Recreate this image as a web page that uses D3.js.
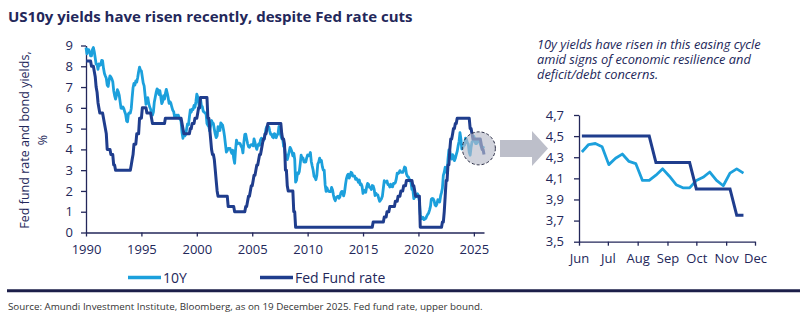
<!DOCTYPE html>
<html>
<head>
<meta charset="utf-8">
<script src="https://cdn.jsdelivr.net/npm/d3@7"></script>
<style>
  body { margin: 0; background: #fff; }
  text { font-family: "Open Sans", sans-serif; }
</style>
</head>
<body>
<div id="chart"></div>
<script>
// monthly values, Jan 1990 .. Dec 2025
const startYear = 1990;
const tenY = [
  8.9, 8.6, 8.8, 8.8, 8.7, 8.5, 8.5, 8.8, 8.9, 8.7, 8.4, 8.1,       // 1990
  8.09, 7.85, 8.11, 8.04, 8.07, 8.28, 8.27, 7.90, 7.65, 7.53, 7.42, 7.09,
  7.03, 7.34, 7.54, 7.48, 7.39, 7.26, 6.84, 6.59, 6.42, 6.59, 6.87, 6.77,
  6.60, 6.26, 5.98, 5.97, 6.04, 5.96, 5.81, 5.68, 5.36, 5.33, 5.72, 5.77,
  5.75, 5.97, 6.48, 6.97, 7.18, 7.10, 7.30, 7.24, 7.46, 7.74, 7.96, 7.81,
  7.78, 7.47, 7.20, 7.06, 6.63, 6.17, 6.28, 6.49, 6.20, 6.04, 5.93, 5.71, // 1995
  5.65, 5.81, 6.27, 6.51, 6.74, 6.91, 6.87, 6.64, 6.83, 6.53, 6.20, 6.30,
  6.58, 6.42, 6.69, 6.89, 6.71, 6.49, 6.22, 6.30, 6.21, 6.03, 5.88, 5.81,
  5.54, 5.57, 5.65, 5.64, 5.65, 5.50, 5.46, 5.34, 4.81, 4.53, 4.83, 4.65,
  4.72, 5.00, 5.23, 5.18, 5.54, 5.90, 5.79, 5.94, 5.92, 6.11, 6.03, 6.28,
  6.66, 6.52, 6.26, 5.99, 6.44, 6.10, 6.05, 5.83, 5.80, 5.74, 5.72, 5.24, // 2000
  5.16, 5.10, 4.89, 5.14, 5.39, 5.28, 5.24, 4.97, 4.73, 4.57, 4.65, 5.09,
  5.04, 4.91, 5.28, 5.21, 5.16, 4.93, 4.65, 4.26, 3.87, 3.94, 4.05, 4.03,
  4.05, 3.90, 3.81, 3.96, 3.57, 3.33, 3.98, 4.45, 4.27, 4.29, 4.30, 4.27,
  4.15, 4.08, 3.83, 4.35, 4.72, 4.73, 4.50, 4.28, 4.13, 4.10, 4.19, 4.23,
  4.22, 4.17, 4.50, 4.34, 4.14, 4.00, 4.18, 4.26, 4.20, 4.46, 4.54, 4.47, // 2005
  4.42, 4.57, 4.72, 4.99, 5.11, 5.11, 5.09, 4.88, 4.72, 4.73, 4.60, 4.56,
  4.76, 4.72, 4.56, 4.69, 4.75, 5.10, 5.00, 4.67, 4.52, 4.53, 4.15, 4.10,
  3.74, 3.74, 3.51, 3.68, 3.88, 4.10, 4.01, 3.89, 3.69, 3.81, 3.53, 2.42,
  2.52, 2.87, 2.82, 2.93, 3.29, 3.72, 3.56, 3.59, 3.40, 3.39, 3.40, 3.59,
  3.73, 3.69, 3.73, 3.85, 3.42, 3.20, 3.01, 2.70, 2.65, 2.54, 2.76, 3.29, // 2010
  3.39, 3.58, 3.41, 3.46, 3.17, 3.00, 3.00, 2.30, 1.98, 2.15, 2.01, 1.98,
  1.97, 1.97, 2.17, 2.05, 1.80, 1.62, 1.53, 1.68, 1.72, 1.75, 1.65, 1.72,
  1.91, 1.98, 1.96, 1.76, 1.93, 2.30, 2.58, 2.74, 2.81, 2.62, 2.72, 2.90,
  2.86, 2.71, 2.72, 2.71, 2.56, 2.60, 2.54, 2.42, 2.53, 2.30, 2.33, 2.21,
  1.88, 1.98, 2.04, 1.94, 2.20, 2.36, 2.32, 2.17, 2.17, 2.07, 2.26, 2.24, // 2015
  2.09, 1.78, 1.89, 1.81, 1.81, 1.64, 1.50, 1.56, 1.63, 1.76, 2.14, 2.49,
  2.43, 2.42, 2.48, 2.30, 2.30, 2.19, 2.32, 2.21, 2.20, 2.36, 2.35, 2.40,
  2.58, 2.86, 2.84, 2.87, 2.98, 2.91, 2.89, 2.89, 3.00, 3.15, 3.12, 2.83,
  2.71, 2.68, 2.57, 2.53, 2.40, 2.07, 2.06, 1.63, 1.70, 1.71, 1.81, 1.86,
  1.76, 1.50, 0.87, 0.66, 0.67, 0.73, 0.62, 0.65, 0.68, 0.79, 0.87, 0.93, // 2020
  1.08, 1.26, 1.61, 1.64, 1.62, 1.52, 1.32, 1.28, 1.37, 1.58, 1.56, 1.47,
  1.76, 1.93, 2.13, 2.75, 2.90, 3.14, 2.90, 2.90, 3.52, 3.98, 3.89, 3.62,
  3.53, 3.75, 3.66, 3.46, 3.57, 3.75, 3.90, 4.17, 4.38, 4.80, 4.50, 4.02,
  4.06, 4.21, 4.21, 4.54, 4.48, 4.31, 4.25, 3.87, 3.72, 4.10, 4.36, 4.39,
  4.63, 4.45, 4.28, 4.28, 4.42, 4.38, 4.39, 4.26, 4.12, 4.06, 4.09, 4.15  // 2025
];
const fedFund = [
  8.25, 8.25, 8.25, 8.25, 8.25, 8.25, 8.0, 8.0, 8.0, 7.75, 7.5, 7.0,     // 1990
  6.75, 6.25, 6.0, 5.75, 5.75, 5.75, 5.75, 5.5, 5.25, 5.0, 4.75, 4.0,
  4.0, 4.0, 4.0, 3.75, 3.75, 3.75, 3.25, 3.25, 3.0, 3.0, 3.0, 3.0,
  3.0, 3.0, 3.0, 3.0, 3.0, 3.0, 3.0, 3.0, 3.0, 3.0, 3.0, 3.0,
  3.0, 3.25, 3.5, 3.75, 4.25, 4.25, 4.25, 4.75, 4.75, 4.75, 5.5, 5.5,
  5.5, 6.0, 6.0, 6.0, 6.0, 6.0, 5.75, 5.75, 5.75, 5.75, 5.75, 5.5,     // 1995
  5.25, 5.25, 5.25, 5.25, 5.25, 5.25, 5.25, 5.25, 5.25, 5.25, 5.25, 5.25,
  5.25, 5.25, 5.5, 5.5, 5.5, 5.5, 5.5, 5.5, 5.5, 5.5, 5.5, 5.5,
  5.5, 5.5, 5.5, 5.5, 5.5, 5.5, 5.5, 5.5, 5.25, 5.0, 4.75, 4.75,
  4.75, 4.75, 4.75, 4.75, 4.75, 5.0, 5.0, 5.25, 5.25, 5.25, 5.5, 5.5,
  5.5, 5.75, 6.0, 6.0, 6.5, 6.5, 6.5, 6.5, 6.5, 6.5, 6.5, 6.5,         // 2000
  5.5, 5.5, 5.0, 4.5, 4.0, 3.75, 3.75, 3.5, 3.0, 2.5, 2.0, 1.75,
  1.75, 1.75, 1.75, 1.75, 1.75, 1.75, 1.75, 1.75, 1.75, 1.75, 1.25, 1.25,
  1.25, 1.25, 1.25, 1.25, 1.25, 1.0, 1.0, 1.0, 1.0, 1.0, 1.0, 1.0,
  1.0, 1.0, 1.0, 1.0, 1.0, 1.25, 1.25, 1.5, 1.75, 1.75, 2.0, 2.25,
  2.25, 2.5, 2.75, 2.75, 3.0, 3.25, 3.25, 3.5, 3.75, 3.75, 4.0, 4.25,  // 2005
  4.5, 4.5, 4.75, 4.75, 5.0, 5.25, 5.25, 5.25, 5.25, 5.25, 5.25, 5.25,
  5.25, 5.25, 5.25, 5.25, 5.25, 5.25, 5.25, 5.25, 4.75, 4.5, 4.5, 4.25,
  3.0, 3.0, 2.25, 2.0, 2.0, 2.0, 2.0, 2.0, 2.0, 1.0, 1.0, 0.25,
  0.25, 0.25, 0.25, 0.25, 0.25, 0.25, 0.25, 0.25, 0.25, 0.25, 0.25, 0.25,
  0.25, 0.25, 0.25, 0.25, 0.25, 0.25, 0.25, 0.25, 0.25, 0.25, 0.25, 0.25, // 2010
  0.25, 0.25, 0.25, 0.25, 0.25, 0.25, 0.25, 0.25, 0.25, 0.25, 0.25, 0.25,
  0.25, 0.25, 0.25, 0.25, 0.25, 0.25, 0.25, 0.25, 0.25, 0.25, 0.25, 0.25,
  0.25, 0.25, 0.25, 0.25, 0.25, 0.25, 0.25, 0.25, 0.25, 0.25, 0.25, 0.25,
  0.25, 0.25, 0.25, 0.25, 0.25, 0.25, 0.25, 0.25, 0.25, 0.25, 0.25, 0.25,
  0.25, 0.25, 0.25, 0.25, 0.25, 0.25, 0.25, 0.25, 0.25, 0.25, 0.25, 0.5,  // 2015
  0.5, 0.5, 0.5, 0.5, 0.5, 0.5, 0.5, 0.5, 0.5, 0.5, 0.5, 0.75,
  0.75, 0.75, 1.0, 1.0, 1.0, 1.25, 1.25, 1.25, 1.25, 1.25, 1.25, 1.5,
  1.5, 1.5, 1.75, 1.75, 1.75, 2.0, 2.0, 2.0, 2.25, 2.25, 2.25, 2.5,
  2.5, 2.5, 2.5, 2.5, 2.5, 2.5, 2.25, 2.25, 2.0, 1.75, 1.75, 1.75,
  1.75, 1.75, 0.25, 0.25, 0.25, 0.25, 0.25, 0.25, 0.25, 0.25, 0.25, 0.25, // 2020
  0.25, 0.25, 0.25, 0.25, 0.25, 0.25, 0.25, 0.25, 0.25, 0.25, 0.25, 0.25,
  0.25, 0.25, 0.5, 0.5, 1.0, 1.75, 2.5, 2.5, 3.25, 3.25, 4.0, 4.5,
  4.5, 4.75, 5.0, 5.0, 5.25, 5.25, 5.5, 5.5, 5.5, 5.5, 5.5, 5.5,
  5.5, 5.5, 5.5, 5.5, 5.5, 5.5, 5.5, 5.5, 5.0, 5.0, 4.75, 4.5,
  4.5, 4.5, 4.5, 4.5, 4.5, 4.5, 4.5, 4.5, 4.25, 4.0, 4.0, 3.75          // 2025
];
const yearTicks = [1990, 1995, 2000, 2005, 2010, 2015, 2020, 2025];
const yTicksMain = [0, 1, 2, 3, 4, 5, 6, 7, 8, 9];

// zoom panel, weekly since June 2025
const weekDates = ["2025-06-04", "2025-06-11", "2025-06-18", "2025-06-25",
  "2025-07-02", "2025-07-09", "2025-07-16", "2025-07-23", "2025-07-30",
  "2025-08-06", "2025-08-13", "2025-08-20", "2025-08-27",
  "2025-09-03", "2025-09-10", "2025-09-17", "2025-09-24",
  "2025-10-01", "2025-10-08", "2025-10-15", "2025-10-22", "2025-10-29",
  "2025-11-05", "2025-11-12", "2025-11-19"];
const tenYWeekly = [4.35, 4.42, 4.43, 4.40, 4.23, 4.29, 4.33, 4.26, 4.24, 4.08,
  4.08, 4.13, 4.19, 4.12, 4.04, 4.01, 4.01, 4.08, 4.11, 4.16, 4.08, 4.03, 4.15, 4.19, 4.15];
const fedWeekly = [4.5, 4.5, 4.5, 4.5, 4.5, 4.5, 4.5, 4.5, 4.5, 4.5, 4.5,
  4.25, 4.25, 4.25, 4.25, 4.25, 4.25,
  4.0, 4.0, 4.0, 4.0, 4.0, 4.0, 3.75, 3.75];
const monthTicks = ["2025-06-01", "2025-07-01", "2025-08-01", "2025-09-01", "2025-10-01", "2025-11-01", "2025-12-01"];
const yTicksZoom = [3.5, 3.7, 3.9, 4.1, 4.3, 4.5, 4.7];

const navy = "#23275a";
const lightBlue = "#1ca0dc";
const darkBlue = "#1f3d8d";

const svg = d3.select("#chart").append("svg")
  .attr("width", 800).attr("height", 321)
  .style("background", "#fff");

svg.append("text")
  .attr("x", 8).attr("y", 22)
  .attr("font-size", 15).attr("font-weight", 700)
  .attr("fill", navy)
  .text("US10y yields have risen recently, despite Fed rate cuts");

// ---- main chart
const parseDay = d3.timeParse("%Y-%m-%d");
const mainData = tenY.map((v, i) => ({ date: new Date(startYear, i, 1), ten: v, fed: fedFund[i] }));

const x = d3.scaleTime()
  .domain([new Date(1990, 0, 1), new Date(2025, 11, 1)])
  .range([86, 484]);
const y = d3.scaleLinear().domain([0, 9]).range([232.5, 45.5]);

function styleAxis(g) {
  g.select(".domain").attr("stroke", navy).attr("stroke-width", 1.3);
  g.selectAll(".tick line").attr("stroke", navy).attr("stroke-width", 1.3);
  g.selectAll(".tick text").attr("fill", navy).attr("font-size", 13)
    .attr("font-family", '"Open Sans", sans-serif');
}

svg.append("g")
  .attr("transform", "translate(0,232.5)")
  .call(d3.axisBottom(x)
    .tickValues(yearTicks.map(t => new Date(t, 0, 1)))
    .tickFormat(d3.timeFormat("%Y"))
    .tickSize(4).tickSizeOuter(0).tickPadding(8))
  .call(styleAxis);

svg.append("g")
  .attr("transform", "translate(86,0)")
  .call(d3.axisLeft(y).tickValues(yTicksMain).tickSize(5).tickSizeOuter(0).tickPadding(8))
  .call(styleAxis);

svg.append("text")
  .attr("transform", "translate(25,140) rotate(-90)")
  .attr("text-anchor", "middle").attr("dy", "0.35em")
  .attr("font-size", 12.5).attr("fill", navy)
  .text("Fed fund rate and bond yields,");
svg.append("text")
  .attr("transform", "translate(43,140) rotate(-90)")
  .attr("text-anchor", "middle").attr("dy", "0.35em")
  .attr("font-size", 12.5).attr("fill", navy)
  .text("%");

const lineTen = d3.line().x(d => x(d.date)).y(d => y(d.ten));
const lineFed = d3.line().x(d => x(d.date)).y(d => y(d.fed));

svg.append("path").datum(mainData)
  .attr("fill", "none").attr("stroke", lightBlue).attr("stroke-width", 2.8)
  .attr("stroke-linejoin", "round")
  .attr("d", lineTen);
svg.append("path").datum(mainData)
  .attr("fill", "none").attr("stroke", darkBlue).attr("stroke-width", 3)
  .attr("stroke-linejoin", "round")
  .attr("d", lineFed);

// highlight circle on the latest months
svg.append("circle")
  .attr("cx", x(new Date(2025, 5, 15))).attr("cy", y(4.05))
  .attr("r", 16.5)
  .attr("fill", "#b9bcc9").attr("fill-opacity", 0.65)
  .attr("stroke", "#2a2d45").attr("stroke-width", 1)
  .attr("stroke-dasharray", "3,2");

// arrow
svg.append("path")
  .attr("d", "M500,140 L532,140 L532,131 L548,148.5 L532,166 L532,157 L500,157 Z")
  .attr("fill", "#bdbfca");

// ---- zoom panel
["10y yields have risen in this easing cycle",
 "amid signs of economic resilience and",
 "deficit/debt concerns."].forEach((t, i) => {
  svg.append("text")
    .attr("x", 537).attr("y", 49 + i * 15)
    .attr("font-size", 12.8).attr("font-style", "italic").attr("fill", navy)
    .text(t);
});

const x2 = d3.scaleTime()
  .domain([parseDay("2025-06-01"), parseDay("2025-12-01")])
  .range([579, 755]);
const y2 = d3.scaleLinear().domain([3.5, 4.7]).range([241.7, 115]);
const commaFmt = d3.formatLocale({ decimal: ",", thousands: ".", grouping: [3], currency: ["", "€"] }).format(".1f");

svg.append("g")
  .attr("transform", "translate(0,241.7)")
  .call(d3.axisBottom(x2)
    .tickValues(monthTicks.map(parseDay))
    .tickFormat(d3.timeFormat("%b"))
    .tickSize(4).tickSizeOuter(0).tickPadding(8))
  .call(styleAxis);

svg.append("g")
  .attr("transform", "translate(579,0)")
  .call(d3.axisLeft(y2).tickValues(yTicksZoom).tickFormat(commaFmt)
    .tickSize(5).tickSizeOuter(0).tickPadding(10))
  .call(styleAxis);

const zoomData = weekDates.map((d, i) => ({ date: parseDay(d), ten: tenYWeekly[i], fed: fedWeekly[i] }));

svg.append("path").datum(zoomData)
  .attr("fill", "none").attr("stroke", lightBlue).attr("stroke-width", 2.8)
  .attr("stroke-linejoin", "round")
  .attr("d", d3.line().x(d => x2(d.date)).y(d => y2(d.ten)));
svg.append("path").datum(zoomData)
  .attr("fill", "none").attr("stroke", darkBlue).attr("stroke-width", 3)
  .attr("d", d3.line().x(d => x2(d.date)).y(d => y2(d.fed)));

// ---- legend
const legend = [
  { label: "10Y", color: lightBlue, x: 128 },
  { label: "Fed Fund rate", color: darkBlue, x: 260 }
];
legend.forEach(l => {
  svg.append("line")
    .attr("x1", l.x).attr("x2", l.x + 33)
    .attr("y1", 277.5).attr("y2", 277.5)
    .attr("stroke", l.color).attr("stroke-width", 3.5);
  svg.append("text")
    .attr("x", l.x + 35).attr("y", 282.5)
    .attr("font-size", 14).attr("fill", navy)
    .text(l.label);
});

// ---- footer
svg.append("line")
  .attr("x1", 7).attr("x2", 800)
  .attr("y1", 290.7).attr("y2", 290.7)
  .attr("stroke", "#1c1f4a").attr("stroke-width", 3);

svg.append("text")
  .attr("x", 8).attr("y", 310)
  .attr("font-size", 9.8).attr("fill", "#333")
  .text("Source: Amundi Investment Institute, Bloomberg, as on 19 December 2025. Fed fund rate, upper bound.");
</script>
</body>
</html>
